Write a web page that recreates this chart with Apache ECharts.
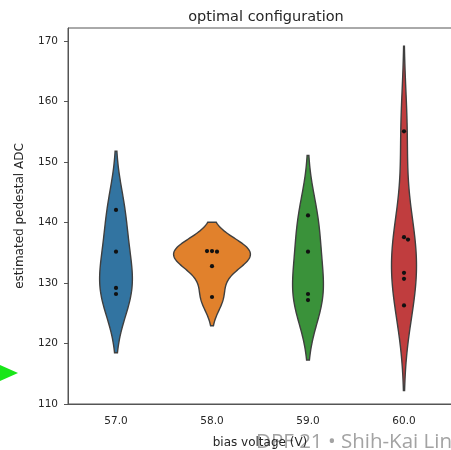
<!DOCTYPE html>
<html>
<head>
<meta charset="utf-8">
<script src="https://cdn.jsdelivr.net/npm/echarts@6/dist/echarts.min.js"></script>
<style>
  html, body { margin: 0; padding: 0; background: #fff; }
  #chart { width: 451px; height: 450px; }
</style>
</head>
<body>
<div id="chart"></div>
<script>
// Bias voltage settings (categories) and the estimated pedestal ADC per channel
const voltages = ['57.0', '58.0', '59.0', '60.0'];
const pedestal57 = [142.1, 135.2, 129.2, 128.2];
const pedestal58 = [135.3, 135.2, 135.3, 132.8, 127.7];
const pedestal59 = [141.2, 135.2, 128.2, 127.2];
const pedestal60 = [155.1, 137.6, 137.2, 131.7, 130.7, 126.3];

const violinColors = ['#3274a1', '#e1812c', '#3a923a', '#c03d3e'];
const groups = [pedestal57, pedestal58, pedestal59, pedestal60];

// Gaussian KDE with Scott's bandwidth, support cut at 2 bandwidths past the data
function gaussianKde(values) {
  const n = values.length;
  const mean = values.reduce((a, b) => a + b, 0) / n;
  const variance = values.reduce((a, v) => a + (v - mean) * (v - mean), 0) / (n - 1);
  const bw = Math.sqrt(variance) * Math.pow(n, -1 / 5);
  const lo = Math.min(...values) - 2 * bw;
  const hi = Math.max(...values) + 2 * bw;
  const gridSize = 100;
  const support = [], density = [];
  for (let i = 0; i < gridSize; i++) {
    const y = lo + (hi - lo) * i / (gridSize - 1);
    let s = 0;
    for (const v of values) s += Math.exp(-0.5 * ((y - v) / bw) ** 2);
    support.push(y);
    density.push(s / (n * bw * Math.sqrt(2 * Math.PI)));
  }
  return { support, density };
}

const kdes = groups.map(gaussianKde);
// "area" scaling: the tallest density peak across all violins gets the full width
const peakDensity = Math.max(...kdes.map(k => Math.max(...k.density)));
const violinWidth = 0.8;

function renderViolin(params, api) {
  const i = api.value(0);
  const k = kdes[i];
  const band = api.size([1, 0])[0];
  const cx = api.coord([i, 140])[0];
  const right = [], left = [];
  k.support.forEach((y, j) => {
    const py = api.coord([i, y])[1];
    const w = k.density[j] / peakDensity * (violinWidth / 2) * band;
    right.push([cx + w, py]);
    left.push([cx - w, py]);
  });
  return {
    type: 'polygon',
    shape: { points: right.concat(left.reverse()), smooth: 0 },
    style: { fill: violinColors[i], stroke: '#3f3f3f', lineWidth: 1.4 }
  };
}

// Observations drawn as small dots; overlapping dots are nudged sideways
function renderPoints(params, api) {
  const i = api.value(0);
  const cx = api.coord([i, 140])[0];
  const r = 2.1, d = 2 * r;
  const placed = [];
  const children = groups[i].map(v => {
    const py = api.coord([i, v])[1];
    let off = 0;
    for (let step = 0; step < 40; step++) {
      const cand = step === 0 ? 0 : (step % 2 ? 1 : -1) * Math.ceil(step / 2);
      if (placed.every(p => Math.hypot(p[0] - cand, p[1] - py) >= d)) { off = cand; break; }
    }
    placed.push([off, py]);
    return { type: 'circle', shape: { cx: cx + off, cy: py, r: r }, style: { fill: '#111' } };
  });
  return { type: 'group', children };
}

const axisColor = '#555';
const textColor = '#262626';
const font = 'DejaVu Sans';

const chart = echarts.init(document.getElementById('chart'), null, { renderer: 'canvas' });
chart.setOption({
  animation: false,
  backgroundColor: '#fff',
  title: {
    text: 'optimal configuration',
    left: 261, top: 5,
    textAlign: 'center',
    textStyle: { fontFamily: font, fontSize: 14.5, fontWeight: 'normal', color: textColor }
  },
  grid: {
    left: 68, top: 28, width: 384, height: 376,
    outerBoundsMode: 'none',
    containLabel: false,
    show: true, borderColor: axisColor, borderWidth: 1, backgroundColor: 'transparent'
  },
  xAxis: {
    type: 'category',
    data: voltages,
    boundaryGap: true,
    z: 10,
    name: 'bias voltage (V)',
    nameLocation: 'middle',
    nameGap: 33,
    nameTextStyle: { fontFamily: font, fontSize: 12, color: textColor },
    axisLine: { lineStyle: { color: axisColor, width: 1 } },
    axisTick: { alignWithLabel: true, length: 4, lineStyle: { color: axisColor } },
    axisLabel: { fontFamily: font, fontSize: 10.5, color: textColor, margin: 12 },
    splitLine: { show: false }
  },
  yAxis: {
    type: 'value',
    min: 110, max: 172.2, interval: 10,
    name: 'estimated pedestal ADC',
    nameLocation: 'middle',
    nameGap: 42,
    nameTextStyle: { fontFamily: font, fontSize: 12, color: textColor },
    axisLine: { show: true, lineStyle: { color: axisColor, width: 1 } },
    axisTick: { show: true, length: 4, lineStyle: { color: axisColor } },
    axisLabel: {
      fontFamily: font, fontSize: 10.5, color: textColor, margin: 10,
      showMaxLabel: false,
      formatter: v => (Math.abs(v % 10) < 1e-6 ? String(v) : '')
    },
    splitLine: { show: false }
  },
  graphic: [
    {
      type: 'text', z: 0,
      style: {
        x: 452, y: 453, text: 'DPF 21 \u2022 Shih-Kai Lin',
        align: 'right', verticalAlign: 'bottom',
        font: '20.5px "Open Sans"', fill: '#a3a3a3'
      }
    },
    {
      type: 'polygon', z: 0,
      shape: { points: [[0, 365], [18, 373], [0, 381]] },
      style: { fill: '#19e619' }
    }
  ],
  series: [
    {
      type: 'custom',
      data: voltages.map((v, i) => [i]),
      encode: { x: 0 },
      renderItem: renderViolin,
      z: 2
    },
    {
      type: 'custom',
      data: voltages.map((v, i) => [i]),
      encode: { x: 0 },
      renderItem: renderPoints,
      z: 3
    }
  ]
});
</script>
</body>
</html>
